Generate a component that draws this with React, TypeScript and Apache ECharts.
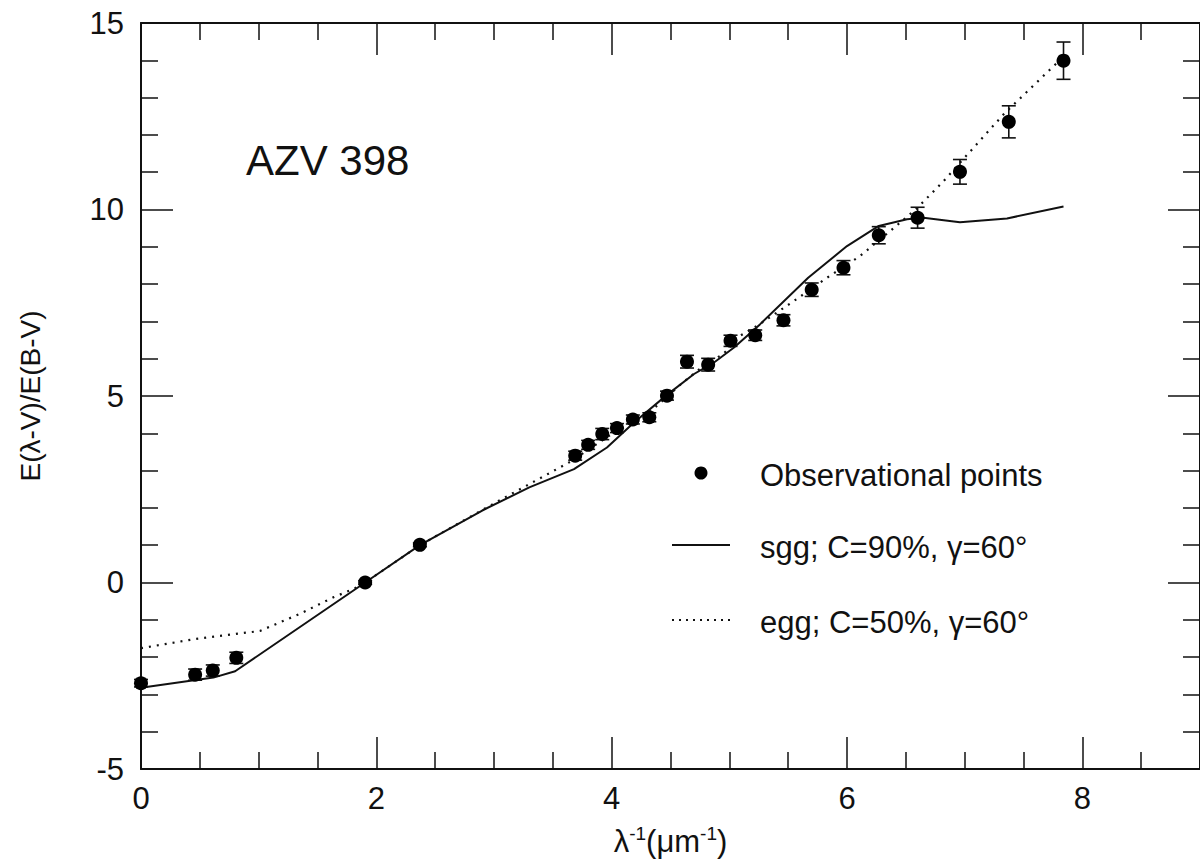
import React, { useEffect, useRef } from "react";
import * as echarts from "echarts";

// Observational points: x = 1/lambda (um^-1), y = E(l-V)/E(B-V), err = error bar half-length
const obsX = [0, 0.46, 0.61, 0.81, 1.905, 2.37, 3.69, 3.8, 3.92, 4.045, 4.18, 4.32, 4.47, 4.64, 4.82, 5.01, 5.22, 5.46, 5.7, 5.97, 6.27, 6.6, 6.96, 7.375, 7.84];
const obsY = [-2.7, -2.47, -2.36, -2.02, 0.0, 1.01, 3.4, 3.69, 3.98, 4.14, 4.37, 4.43, 5.01, 5.92, 5.84, 6.48, 6.63, 7.03, 7.85, 8.44, 9.31, 9.78, 11.01, 12.35, 13.99];
const obsErr = [0.1, 0.15, 0.15, 0.15, 0.05, 0.05, 0.12, 0.12, 0.15, 0.12, 0.12, 0.12, 0.12, 0.17, 0.17, 0.15, 0.14, 0.15, 0.18, 0.19, 0.23, 0.28, 0.33, 0.43, 0.5];

// sgg; C=90%, gamma=60 (solid)
const sggX = [0, 0.615, 0.8, 1.905, 2.37, 2.9, 3.3, 3.68, 3.96, 4.19, 4.47, 4.7, 4.87, 5.04, 5.26, 5.67, 6.0, 6.27, 6.51, 6.65, 6.96, 7.36, 7.84];
const sggY = [-2.82, -2.55, -2.38, 0.0, 1.0, 1.93, 2.55, 3.04, 3.62, 4.29, 5.03, 5.59, 5.9, 6.3, 6.92, 8.17, 9.02, 9.56, 9.74, 9.78, 9.66, 9.76, 10.08];

// egg; C=50%, gamma=60 (dotted)
const eggX = [0, 0.47, 1.01, 1.35, 1.64, 1.81, 1.905, 2.37, 3.0, 3.65, 4.0, 4.3, 4.6, 4.8, 4.95, 5.09, 5.26, 5.55, 5.83, 6.11, 6.4, 6.6, 6.82, 7.33, 7.84];
const eggY = [-1.76, -1.51, -1.3, -0.84, -0.39, -0.17, 0.0, 1.0, 2.12, 3.24, 3.98, 4.5, 5.35, 5.85, 6.13, 6.61, 6.93, 7.55, 8.17, 8.75, 9.51, 10.05, 10.76, 12.55, 14.1];

const xTicks = { min: 0, max: 9, interval: 2 };
const yTicks = { min: -5, max: 15, interval: 5 };

const legendLabels = ["Observational points", "sgg; C=90%, γ=60°", "egg; C=50%, γ=60°"];
const starName = "AZV 398";

const FONT = "'Liberation Sans', Arial, Helvetica, sans-serif";
const INK = "#111";

export default function App() {
  const ref = useRef<HTMLDivElement>(null);
  useEffect(() => {
    document.body.style.margin = "0";
    if (!ref.current) return;
    const chart = echarts.init(ref.current, undefined, { renderer: "svg" });

    const axisCommon = (isX: boolean, show: boolean) => ({
      type: "value",
      min: isX ? xTicks.min : yTicks.min,
      max: isX ? xTicks.max : yTicks.max,
      interval: isX ? xTicks.interval : yTicks.interval,
      axisLine: { show: true, onZero: false, lineStyle: { color: INK, width: 2 } },
      axisTick: { show: true, inside: true, length: 32, lineStyle: { color: INK, width: 1.5 } },
      minorTick: { show: true, splitNumber: isX ? 4 : 5, length: 17, lineStyle: { color: INK, width: 1.5 } },
      splitLine: { show: false },
      axisLabel: {
        show,
        color: INK,
        fontFamily: FONT,
        fontSize: 31,
        margin: isX ? 14 : 17,
        showMaxLabel: isX ? false : true,
      },
    });

    const errData = obsX.map((x, i) => [x, obsY[i], obsErr[i]]);

    chart.setOption({
      animation: false,
      grid: { left: 141, right: 0, top: 23, bottom: 93, containLabel: false, outerBoundsMode: "none" },
      xAxis: [
        {
          ...axisCommon(true, true),
          position: "bottom",
          name: "{a|λ}{s|-1}{a|(μm}{s|-1}{a|)}",
          nameLocation: "middle",
          nameGap: 55,
          nameTextStyle: {
            rich: {
              a: { fontFamily: FONT, fontSize: 31, color: INK, lineHeight: 34 },
              s: { fontFamily: FONT, fontSize: 19, color: INK, lineHeight: 19, verticalAlign: "top" },
            },
          },
        },
        { ...axisCommon(true, false), position: "top" },
      ],
      yAxis: [
        {
          ...axisCommon(false, true),
          position: "left",
          name: "E(λ-V)/E(B-V)",
          nameLocation: "middle",
          nameRotate: 90,
          nameGap: 97,
          nameTextStyle: { fontFamily: FONT, fontSize: 28, color: INK },
        },
        { ...axisCommon(false, false), position: "right" },
      ],
      series: [
        {
          type: "line",
          name: legendLabels[1],
          data: sggX.map((x, i) => [x, sggY[i]]),
          showSymbol: false,
          symbol: "none",
          lineStyle: { color: INK, width: 2 },
          z: 2,
        },
        {
          type: "line",
          name: legendLabels[2],
          data: eggX.map((x, i) => [x, eggY[i]]),
          showSymbol: false,
          symbol: "none",
          lineStyle: { color: INK, width: 2.2, type: [2, 6] },
          z: 2,
        },
        {
          type: "custom",
          name: "errorbars",
          data: errData,
          renderItem: (params: any, api: any) => {
            const x = api.value(0);
            const y = api.value(1);
            const e = api.value(2);
            const top = api.coord([x, y + e]);
            const bot = api.coord([x, y - e]);
            const w = 7;
            const style = { stroke: INK, lineWidth: 1.6 };
            return {
              type: "group",
              children: [
                { type: "line", shape: { x1: top[0], y1: top[1], x2: bot[0], y2: bot[1] }, style },
                { type: "line", shape: { x1: top[0] - w, y1: top[1], x2: top[0] + w, y2: top[1] }, style },
                { type: "line", shape: { x1: bot[0] - w, y1: bot[1], x2: bot[0] + w, y2: bot[1] }, style },
              ],
            };
          },
          z: 3,
        },
        {
          type: "scatter",
          name: legendLabels[0],
          data: obsX.map((x, i) => [x, obsY[i]]),
          symbol: "circle",
          symbolSize: 14,
          itemStyle: { color: "#000", opacity: 1 },
          z: 4,
        },
      ],
      graphic: [
        {
          type: "text",
          left: 246,
          top: 139,
          style: { text: starName, fontFamily: FONT, fontSize: 42, fill: INK },
        },
        { type: "circle", shape: { cx: 701, cy: 473, r: 6.5 }, style: { fill: "#000" } },
        {
          type: "text",
          x: 760,
          y: 475,
          style: { text: legendLabels[0], fontFamily: FONT, fontSize: 31, fill: INK, verticalAlign: "middle" },
        },
        { type: "line", shape: { x1: 672, y1: 545, x2: 730, y2: 545 }, style: { stroke: INK, lineWidth: 2 } },
        {
          type: "text",
          x: 760,
          y: 547,
          style: { text: legendLabels[1], fontFamily: FONT, fontSize: 31, fill: INK, verticalAlign: "middle" },
        },
        {
          type: "line",
          shape: { x1: 672, y1: 620, x2: 730, y2: 620 },
          style: { stroke: INK, lineWidth: 2, lineDash: [2, 5] },
        },
        {
          type: "text",
          x: 760,
          y: 622,
          style: { text: legendLabels[2], fontFamily: FONT, fontSize: 31, fill: INK, verticalAlign: "middle" },
        },
      ],
    });
    return () => chart.dispose();
  }, []);
  return <div ref={ref} style={{ width: 1200, height: 862 }} />;
}
